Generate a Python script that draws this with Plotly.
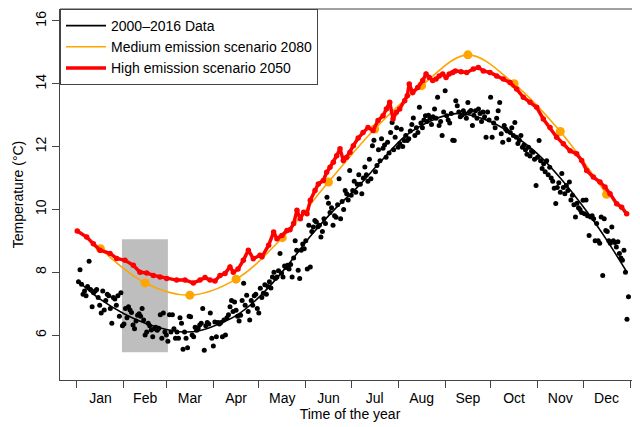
import plotly.graph_objects as go

# ---------------- data ----------------
month_names = ["Jan", "Feb", "Mar", "Apr", "May", "Jun", "Jul", "Aug", "Sep", "Oct", "Nov", "Dec"]
month_bounds = [0, 31, 59, 90, 120, 151, 181, 212, 243, 273, 304, 334, 365]
month_mids = [15.5, 45, 74.5, 105, 135.5, 166, 196.5, 227.5, 258, 288.5, 319, 349.5]

# daily mean temperature 2000-2016 (day 1 ..)
obs_temp = [
    # Jan
    7.70, 8.08, 7.62, 7.30, 7.40, 7.25, 7.55, 8.35, 7.45, 6.90, 7.35, 7.40, 7.45, 7.20, 6.95, 6.70,
    7.40, 6.80, 7.10, 7.30, 7.25, 6.85, 6.38, 7.20, 7.15, 6.95, 7.25, 6.60, 7.35, 6.30, 6.35,
    # Feb
    6.85, 6.55, 6.90, 6.80, 6.72, 6.32, 6.20, 6.45, 6.63, 6.68, 6.60, 6.85, 6.48, 6.00, 6.10, 6.38,
    6.30, 6.16, 5.95, 6.20, 6.25, 6.15, 6.22, 6.65, 5.90, 6.70, 6.10, 6.00,
    # Mar
    5.80, 6.65, 6.10, 6.65, 6.20, 5.90, 6.10, 5.90, 6.55, 6.38, 5.55, 6.10, 5.90, 5.60, 6.60, 6.58,
    6.00, 5.95, 6.25, 6.15, 6.22, 6.32, 6.38, 6.85, 5.52, 6.30, 6.40, 6.35, 6.70, 5.90, 5.65,
    # Apr
    6.42, 5.95, 6.40, 6.35, 6.40, 5.95, 6.48, 6.00, 6.55, 6.65, 6.90, 7.10, 6.75, 7.05, 6.79, 6.60,
    6.45, 6.63, 7.10, 7.65, 6.95, 7.27, 6.75, 6.48, 7.10, 6.95, 7.25, 7.30, 6.85, 6.70,
    # May
    7.49, 7.20, 7.33, 7.60, 7.30, 7.55, 7.70, 7.50, 7.85, 8.00, 7.80, 7.85, 8.05, 8.60, 7.97, 7.85,
    8.20, 8.15, 8.22, 8.10, 8.25, 7.85, 8.45, 9.00, 8.70, 8.06, 7.80, 8.70, 8.90, 8.75, 9.00,
    # Jun
    8.10, 9.50, 8.17, 9.30, 9.44, 9.65, 9.60, 9.45, 9.50, 9.12, 9.30, 9.70, 9.55, 10.39, 10.20, 9.90,
    10.05, 9.50, 9.80, 9.75, 10.15, 10.98, 9.70, 10.25, 10.00, 10.60, 10.50, 10.30, 11.24, 10.45,
    # Jul
    10.60, 10.90, 10.55, 10.80, 11.10, 10.80, 10.50, 11.00, 11.35, 11.10, 10.90, 11.60, 10.98, 12.03,
    12.20, 11.20, 11.40, 11.90, 11.55, 12.25, 11.95, 12.05, 11.66, 12.14, 11.80, 12.45, 12.77, 11.90,
    12.30, 12.60, 11.98,
    # Aug
    12.10, 12.55, 12.00, 12.19, 12.35, 12.19, 12.25, 12.50, 12.70, 12.91, 12.35, 12.60, 12.45, 13.25,
    12.75, 12.60, 12.85, 12.98, 12.80, 13.00, 12.90, 12.70, 12.95, 13.20, 12.90, 13.57, 12.67, 12.80,
    12.35, 13.10, 13.78,
    # Sep
    12.98, 12.85, 12.75, 13.05, 12.20, 12.19, 13.46, 13.30, 13.10, 12.95, 13.00, 13.14, 13.05, 12.90,
    13.40, 13.10, 13.15, 12.67, 13.00, 13.14, 12.90, 13.20, 13.05, 12.80, 13.10, 12.95, 12.30, 13.10,
    12.85, 13.57,
    # Oct
    12.30, 12.75, 12.60, 12.90, 13.14, 13.40, 12.41, 12.14, 12.67, 12.55, 12.50, 12.22, 12.45, 12.60,
    12.35, 12.77, 12.30, 12.10, 12.20, 12.35, 11.98, 12.05, 11.90, 11.76, 11.98, 11.70, 11.85, 11.82,
    11.60, 10.76, 11.66,
    # Nov
    12.19, 11.55, 11.30, 11.45, 11.20, 11.55, 11.10, 11.34, 11.00, 10.90, 10.67, 10.19, 10.70, 10.85,
    10.55, 11.14, 10.70, 10.50, 10.76, 10.60, 10.87, 10.30, 10.45, 10.15, 9.76, 10.20, 10.05, 10.00,
    9.90, 10.29,
    # Dec
    9.86, 10.30, 9.80, 9.17, 9.76, 9.80, 9.70, 9.00, 9.55, 9.00, 8.92, 9.76, 7.90, 9.70, 9.33, 9.30,
    9.00, 8.92, 9.44, 9.00, 8.95, 8.80, 8.97, 8.60, 8.45, 8.38, 8.70, 8.00, 6.50, 7.22,
]
obs_day = list(range(1, len(obs_temp) + 1))

# smoothed fit of the observations
fit_day = [3, 15, 31, 45, 59, 70, 80, 90, 105, 120, 137, 155, 170, 185, 200, 217, 235, 250, 260,
           275, 290, 304, 319, 337, 350, 363]
fit_temp = [7.62, 7.15, 6.68, 6.38, 6.18, 6.10, 6.13, 6.28, 6.62, 7.20, 8.10, 9.20, 10.00, 10.70,
            11.50, 12.35, 12.85, 13.05, 13.00, 12.75, 12.30, 11.77, 11.00, 9.90, 9.00, 8.00]

# medium emission scenario 2080 (monthly values)
med_temp = [8.75, 7.66, 7.27, 7.78, 9.10, 10.87, 12.56, 13.94, 14.92, 14.00, 12.48, 10.48]

# high emission scenario 2050
high_day = [0.2, 6.4, 10.8, 15.2, 21.8, 26.2, 31.7, 37.2, 41.6, 46, 50.4, 54.8, 59.2, 65.8, 71.3,
            76.8, 81.2, 84.5, 87.8, 91.1, 94.4, 97.7, 101, 103.2, 106.3, 109.8, 113.1, 116.4, 120.8,
            122.1, 126.5, 129.8, 132, 135.3, 138.6, 140.6, 143, 145.2, 147.4, 149.6, 151.8, 154,
            157.1, 159.3, 162.6, 164.8, 167, 169.2, 171.4, 173.6, 175.8, 178, 180.2, 182.4, 185.6,
            188.8, 192.1, 195.4, 198.7, 202, 204.2, 206.4, 208.6, 210.8, 213, 216.3, 218, 219.3,
            221.6, 224.9, 228.2, 230.4, 232.5, 234.8, 237, 239.1, 241.4, 243.6, 245.7, 248, 249.7,
            253.5, 257.2, 261.6, 264.9, 268.2, 272.6, 277, 281.4, 285.8, 290.2, 294.6, 299, 303.4,
            307.8, 312.2, 316.6, 321, 325.4, 329.8, 333.1, 336.4, 340.8, 345.2, 348.5, 351.8, 356.2,
            359.5, 362.8]
high_temp = [9.31, 9.12, 8.91, 8.70, 8.60, 8.44, 8.38, 8.22, 8.00, 7.98, 7.90, 7.85, 7.80, 7.75, 7.75,
             7.66, 7.75, 7.83, 7.75, 7.72, 7.90, 7.96, 8.17, 8.00, 8.10, 8.38, 8.70, 8.43, 8.54,
             8.49, 8.86, 9.28, 9.07, 9.17, 9.33, 9.35, 9.55, 9.97, 9.70, 9.91, 9.86, 10.29,
             10.60, 10.81, 10.92, 11.18, 11.34, 11.50, 11.71, 11.93, 11.56, 11.66, 11.82, 12.03, 12.27,
             12.45, 12.61, 12.51, 12.83, 12.98, 13.20, 13.41, 12.88, 13.09, 13.20, 13.46, 13.62, 13.99,
             13.72, 13.88, 14.10, 14.31, 14.20, 14.10, 14.15, 14.25, 14.31, 14.20, 14.31, 14.36, 14.41,
             14.38, 14.36, 14.47, 14.52, 14.41, 14.36, 14.25, 14.15, 14.04, 13.83, 13.57, 13.41, 13.25,
             12.88, 12.61, 12.30, 12.09, 11.87, 11.77, 11.56, 11.24, 11.03, 10.87, 10.71, 10.50, 10.18,
             10.07, 9.86]

# grey highlight window (days, °C)
highlight_day = [29.7, 60.0]
highlight_temp = [5.45, 9.05]

y_ticks = [6, 8, 10, 12, 14, 16]

# ---------------- figure ----------------
FONT = "Liberation Sans, Arial, Helvetica, sans-serif"
AX = "#444444"

fig = go.Figure()

fig.add_shape(type="rect", xref="x", yref="y",
              x0=highlight_day[0], x1=highlight_day[1], y0=highlight_temp[0], y1=highlight_temp[1],
              fillcolor="#bebebe", line=dict(width=0), layer="below")

fig.add_trace(go.Scatter(x=obs_day, y=obs_temp, mode="markers",
                         marker=dict(color="black", size=5), showlegend=False, hoverinfo="skip"))
fig.add_trace(go.Scatter(x=fit_day, y=fit_temp, mode="lines", name="2000\u20132016 Data",
                         line=dict(color="black", width=1.6, shape="spline")))
fig.add_trace(go.Scatter(x=month_mids, y=med_temp, mode="lines", name="Medium emission scenario 2080",
                         line=dict(color="#FFA500", width=1.6, shape="spline")))
fig.add_trace(go.Scatter(x=month_mids, y=med_temp, mode="markers", showlegend=False,
                         marker=dict(color="#FFA500", size=9)))
fig.add_trace(go.Scatter(x=high_day, y=high_temp, mode="lines", name="High emission scenario 2050",
                         line=dict(color="#FF0000", width=3.5)))
fig.add_trace(go.Scatter(x=high_day, y=high_temp, mode="markers", showlegend=False,
                         marker=dict(color="#FF0000", size=5.5)))
# carrier for the month-name axis
fig.add_trace(go.Scatter(x=[None], y=[None], xaxis="x2", showlegend=False, hoverinfo="skip"))

x_range = [-11.2, 371.6]

# the page body adds an 8px offset, so the figure is 8px smaller than the window
fig.update_layout(
    width=632, height=419,
    margin=dict(l=52, r=0, t=1, b=47, autoexpand=False),
    paper_bgcolor="white", plot_bgcolor="white",
    font=dict(family=FONT, size=14, color="black"),
    showlegend=True,
    legend=dict(x=0, y=1, xanchor="left", yanchor="top", bgcolor="white",
                bordercolor=AX, borderwidth=1, font=dict(size=14),
                tracegroupgap=0, itemwidth=40),
    xaxis=dict(range=x_range, tickmode="array", tickvals=month_bounds, showticklabels=False,
               ticks="outside", ticklen=7, tickcolor=AX, showline=True, linecolor=AX,
               showgrid=False, zeroline=False, fixedrange=True, automargin=False),
    xaxis2=dict(range=x_range, overlaying="x", anchor="y", side="bottom",
                tickmode="array", tickvals=month_mids, ticktext=month_names,
                ticks="", ticklabelstandoff=8, showline=False, showgrid=False, zeroline=False,
                automargin=False,
                title=dict(text="Time of the year", standoff=2, font=dict(size=14)),
                tickfont=dict(size=14)),
    yaxis=dict(range=[4.57, 16.38], tickmode="array", tickvals=y_ticks,
               ticks="outside", ticklen=7, tickcolor=AX, tickangle=-90,
               showline=True, linecolor=AX, showgrid=False, zeroline=False, automargin=False,
               title=dict(text="Temperature (\u00b0C)", standoff=6, font=dict(size=14)),
               tickfont=dict(size=14)),
)

# top border of the plotting box
fig.add_shape(type="line", xref="paper", yref="paper", x0=0, x1=1, y0=1, y1=1,
              line=dict(color=AX, width=1))

fig.write_html("out.html")
